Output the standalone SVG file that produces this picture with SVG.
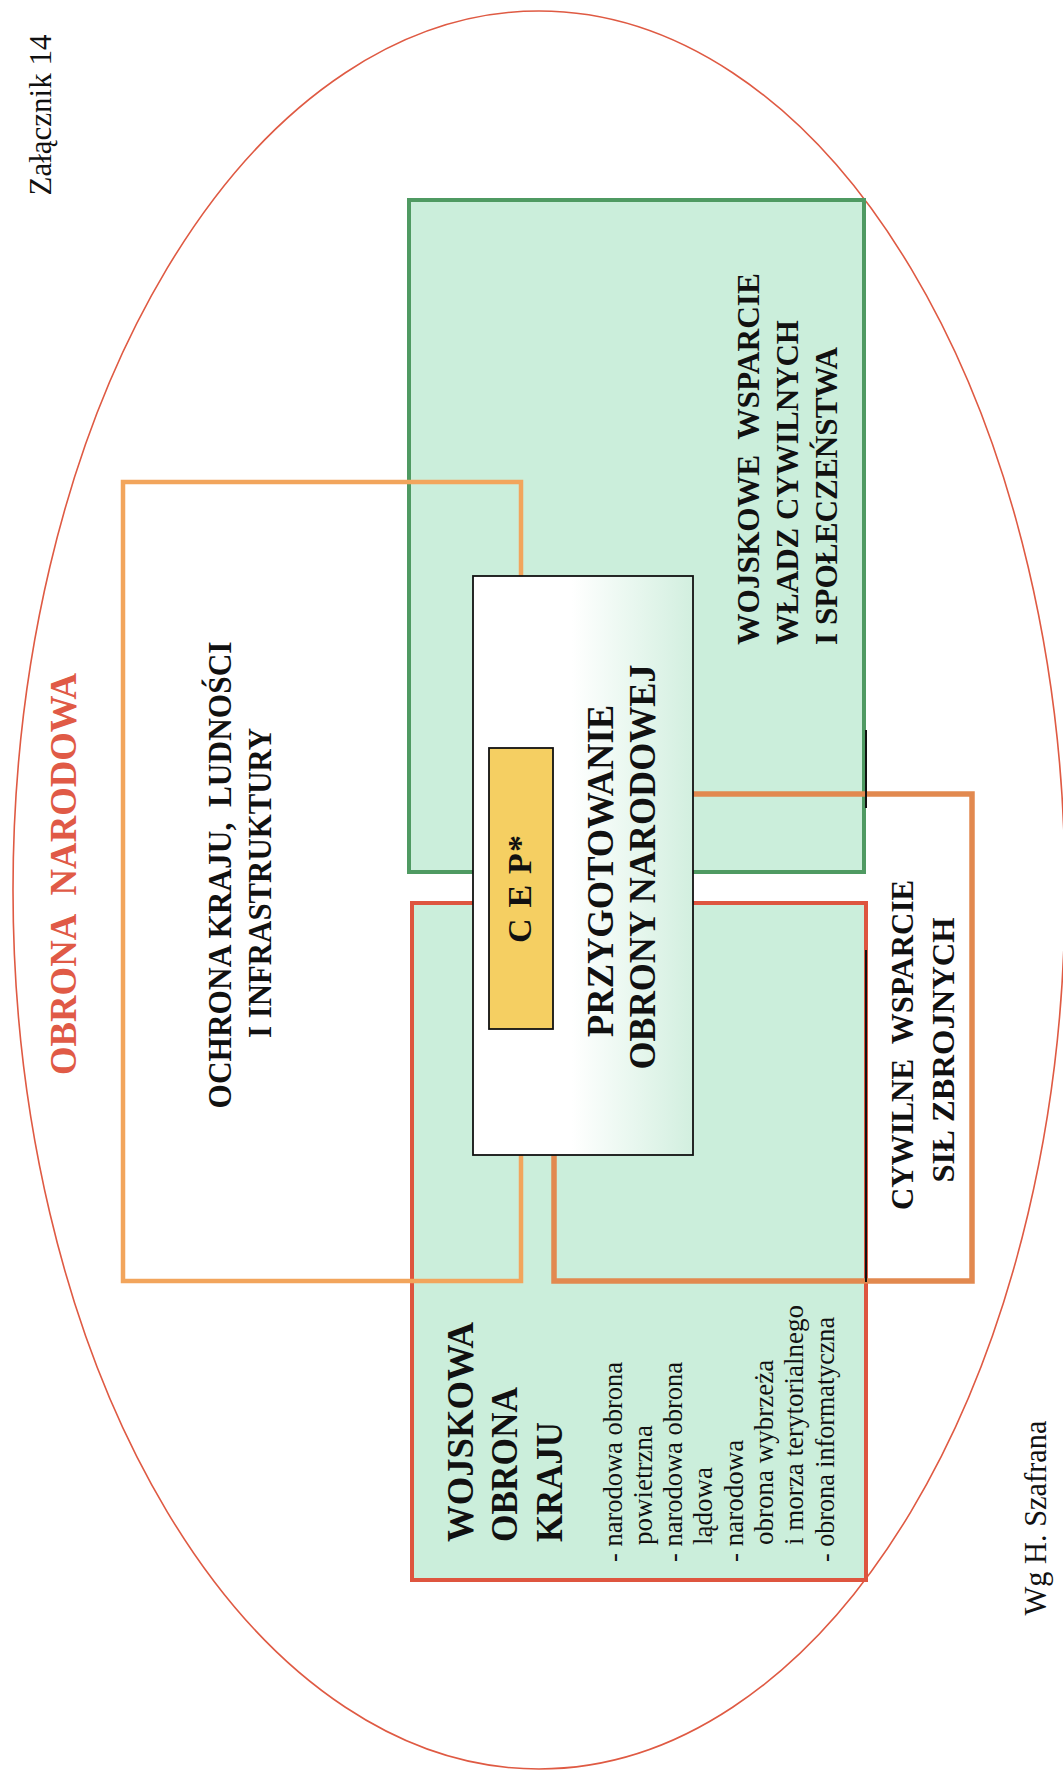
<svg xmlns="http://www.w3.org/2000/svg" width="1063" height="1772" viewBox="0 0 1063 1772">
<defs>
<linearGradient id="whiteGrad" x1="0" y1="0" x2="1" y2="0">
<stop offset="0" stop-color="#ffffff"/>
<stop offset="0.45" stop-color="#ffffff"/>
<stop offset="1" stop-color="#d2efdf"/>
</linearGradient>
<style>
.bold{font-family:"Liberation Serif","Times New Roman",serif;font-weight:bold;fill:#111;}
.reg{font-family:"Liberation Serif","Times New Roman",serif;font-weight:normal;fill:#111;}
.mint{fill:#cbeedb;}
</style>
</defs>
<rect x="0" y="0" width="1063" height="1772" fill="#ffffff"/>

<g id="obrona-narodowa">
<ellipse cx="539" cy="890" rx="526" ry="879" fill="none" stroke="#df5a43" stroke-width="1.6"/>
<text class="bold" font-size="38" style="fill:#e05a46" text-anchor="middle" textLength="402" lengthAdjust="spacingAndGlyphs" transform="translate(76,874) rotate(-90)">OBRONA&#160; NARODOWA</text>
</g>

<g id="wojskowe-wsparcie">
<rect x="409" y="200" width="455" height="672" class="mint" stroke="#4f9a62" stroke-width="4"/>
<text class="bold" font-size="32" textLength="372" lengthAdjust="spacingAndGlyphs" transform="translate(759,645) rotate(-90)">WOJSKOWE&#160; WSPARCIE</text>
<text class="bold" font-size="32" textLength="325" lengthAdjust="spacingAndGlyphs" transform="translate(798,645) rotate(-90)">WŁADZ CYWILNYCH</text>
<text class="bold" font-size="32" textLength="298" lengthAdjust="spacingAndGlyphs" transform="translate(837,645) rotate(-90)">I SPOŁECZEŃSTWA</text>
</g>

<g id="wojskowa-obrona-kraju">
<rect x="412" y="903" width="454" height="677" class="mint" stroke="#de553f" stroke-width="4"/>
<text class="bold" font-size="37" textLength="220" lengthAdjust="spacingAndGlyphs" transform="translate(473,1542) rotate(-90)">WOJSKOWA</text>
<text class="bold" font-size="37" textLength="155" lengthAdjust="spacingAndGlyphs" transform="translate(517,1542) rotate(-90)">OBRONA</text>
<text class="bold" font-size="37" textLength="120" lengthAdjust="spacingAndGlyphs" transform="translate(562,1542) rotate(-90)">KRAJU</text>
<text class="reg" font-size="27" textLength="200" lengthAdjust="spacingAndGlyphs" transform="translate(622,1562) rotate(-90)">- narodowa obrona</text>
<text class="reg" font-size="27" transform="translate(652,1545) rotate(-90)">powietrzna</text>
<text class="reg" font-size="27" textLength="200" lengthAdjust="spacingAndGlyphs" transform="translate(682,1562) rotate(-90)">- narodowa obrona</text>
<text class="reg" font-size="27" transform="translate(712,1545) rotate(-90)">lądowa</text>
<text class="reg" font-size="27" transform="translate(743,1562) rotate(-90)">- narodowa</text>
<text class="reg" font-size="27" transform="translate(773,1545) rotate(-90)">obrona wybrzeża</text>
<text class="reg" font-size="27" transform="translate(803,1545) rotate(-90)">i morza terytorialnego</text>
<text class="reg" font-size="27" textLength="245" lengthAdjust="spacingAndGlyphs" transform="translate(834,1562) rotate(-90)">- obrona informatyczna</text>
</g>

<g id="ochrona-kraju">
<rect x="123" y="482" width="398" height="799" fill="none" stroke="#f2a55c" stroke-width="4.5"/>
<text class="bold" font-size="33" text-anchor="middle" textLength="467" lengthAdjust="spacingAndGlyphs" transform="translate(231,875) rotate(-90)">OCHRONA KRAJU,&#160; LUDNOŚCI</text>
<text class="bold" font-size="33" text-anchor="middle" textLength="310" lengthAdjust="spacingAndGlyphs" transform="translate(271,883) rotate(-90)">I INFRASTRUKTURY</text>
</g>

<g id="cywilne-wsparcie">
<rect x="554" y="794" width="418" height="487" fill="none" stroke="#e2894f" stroke-width="5.5"/>
<text class="bold" font-size="32" text-anchor="middle" textLength="330" lengthAdjust="spacingAndGlyphs" transform="translate(913,1045) rotate(-90)">CYWILNE&#160; WSPARCIE</text>
<text class="bold" font-size="32" text-anchor="middle" textLength="265" lengthAdjust="spacingAndGlyphs" transform="translate(954,1050) rotate(-90)">SIŁ ZBROJNYCH</text>
</g>

<g id="edge-marks">
<line x1="866" y1="730" x2="866" y2="808" stroke="#111" stroke-width="2"/>
<line x1="866" y1="950" x2="866" y2="1282" stroke="#111" stroke-width="2"/>
</g>

<g id="przygotowanie">
<rect x="473" y="576" width="220" height="579" fill="url(#whiteGrad)" stroke="#111" stroke-width="1.8"/>
<text class="bold" font-size="37" text-anchor="middle" textLength="332" lengthAdjust="spacingAndGlyphs" transform="translate(613,871) rotate(-90)">PRZYGOTOWANIE</text>
<text class="bold" font-size="37" text-anchor="middle" textLength="405" lengthAdjust="spacingAndGlyphs" transform="translate(655,867) rotate(-90)">OBRONY NARODOWEJ</text>
</g>

<g id="cep">
<rect x="489" y="748" width="64" height="281" fill="#f5cf62" stroke="#111" stroke-width="1.8"/>
<text class="bold" font-size="34" text-anchor="middle" textLength="108" lengthAdjust="spacing" transform="translate(531,889) rotate(-90)">C E P*</text>
</g>

<g id="zalacznik">
<text class="reg" font-size="32" text-anchor="middle" textLength="161" lengthAdjust="spacingAndGlyphs" transform="translate(51,115) rotate(-90)">Załącznik 14</text>
</g>

<g id="autor">
<text class="reg" font-size="31" text-anchor="middle" textLength="195" lengthAdjust="spacingAndGlyphs" transform="translate(1046,1518) rotate(-90)">Wg H. Szafrana</text>
</g>
</svg>
